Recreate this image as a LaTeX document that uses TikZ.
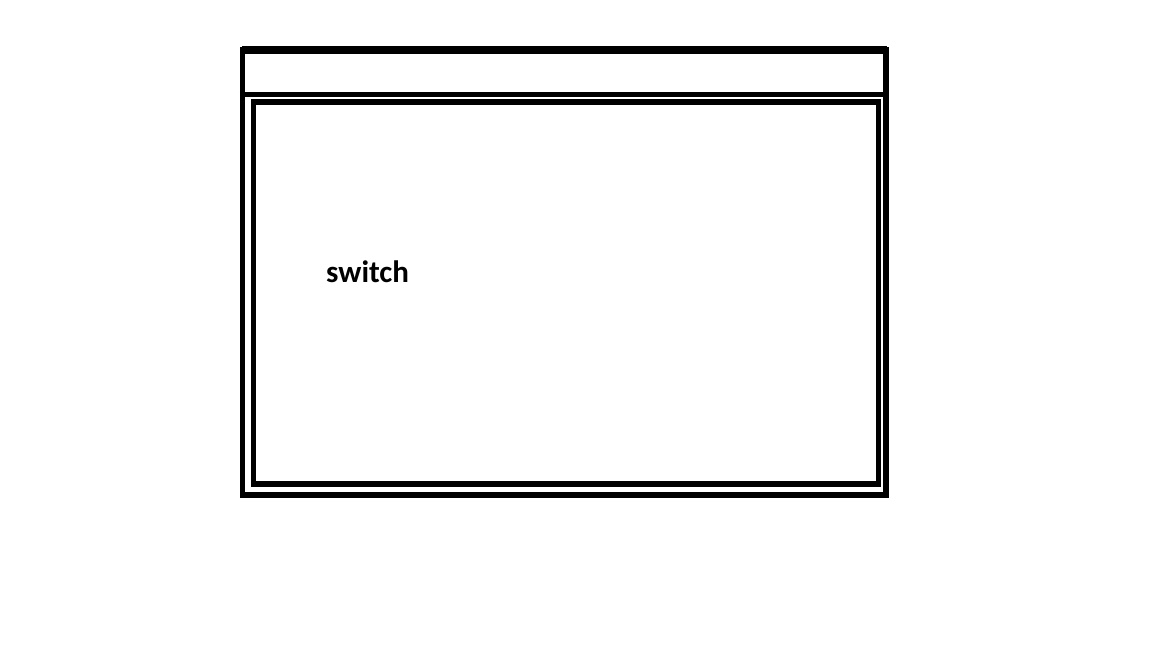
\documentclass[tikz,border=0pt]{standalone}
\usepackage{fontspec}
\setmainfont{Carlito}
\usetikzlibrary{positioning}

\begin{document}
\begin{tikzpicture}[x=1pt,y=-1pt,
	frame/.style={draw,line width=5.5pt,rectangle,inner sep=0pt},
	label/.style={font=\bfseries\fontsize{31}{36}\selectfont,inner sep=0pt,anchor=base west}]
	 \useasboundingbox (0,0) rectangle (1152,648);
	 \node at (564.25,272.5) [frame,minimum width=643.5pt,minimum height=445pt] (window) {};
	 \node at (566,293) [frame,minimum width=625pt,minimum height=382pt] (content) {};
	 \draw[line width=8pt] (242,50) -- (887,50);
	 \draw[line width=5pt] (window.west |- 0,94.5) -- (window.east |- 0,94.5);
	 \node at (326,282) [label] (switch) {switch};
\end{tikzpicture}
\end{document}
